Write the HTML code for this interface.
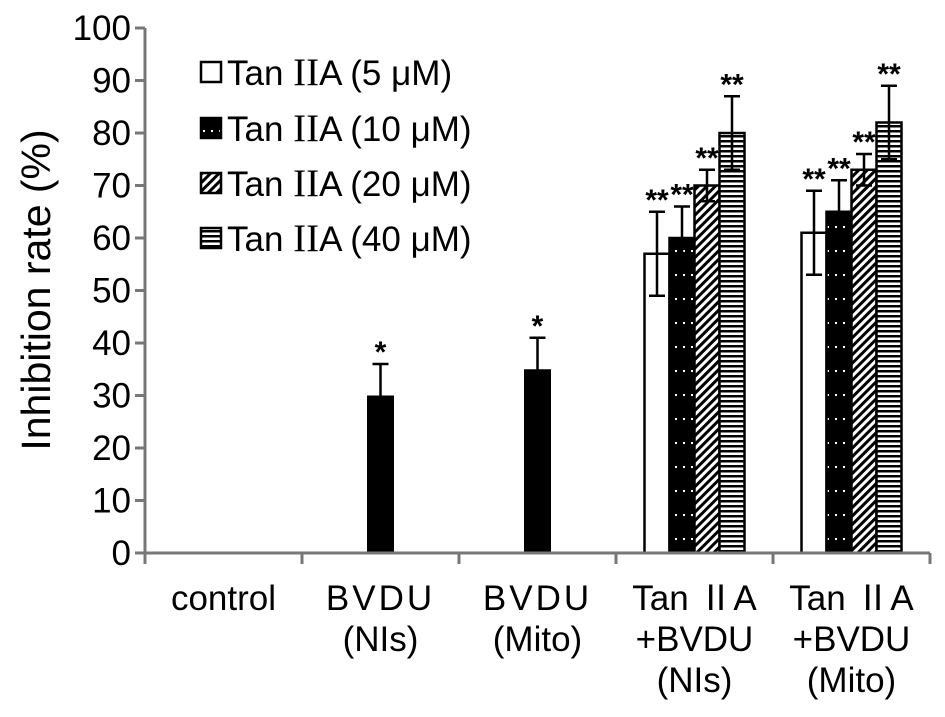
<!DOCTYPE html>
<html><head><meta charset="utf-8"><style>
body{margin:0;background:#fff;}
svg text{font-family:"Liberation Sans","Noto Sans CJK SC",sans-serif;fill:#000;}
.rn{font-family:"Liberation Serif",serif;}
</style></head><body>
<svg width="945" height="712" xmlns="http://www.w3.org/2000/svg">
<defs>
<pattern id="pDot" width="8" height="24" patternUnits="userSpaceOnUse"><rect width="8" height="24" fill="#000"/><rect x="3" y="10" width="2" height="2" fill="#fff"/></pattern>
<pattern id="pHatch" width="6" height="6" patternUnits="userSpaceOnUse" patternTransform="rotate(45)"><rect width="6" height="6" fill="#fff"/><rect width="3" height="6" fill="#000"/></pattern>
<pattern id="pStripe" width="6" height="5" patternUnits="userSpaceOnUse"><rect width="6" height="5" fill="#fff"/><rect width="6" height="2.5" fill="#000"/></pattern>
</defs>
<g id="plot"></g>
<text transform="translate(50,290) rotate(-90)" text-anchor="middle" font-size="41">Inhibition rate (%)</text>
<g font-size="35">
 <g><rect x="201" y="62" width="20" height="20" fill="#fff" stroke="#000" stroke-width="2.5"/><text x="227" y="85">Tan <tspan class="rn" font-size="39">II</tspan>A (5 μM)</text></g>
 <g><rect x="201" y="118" width="20" height="20" fill="url(#pDot)" stroke="#000" stroke-width="2.5"/><text x="227" y="141">Tan <tspan class="rn" font-size="39">II</tspan>A (10 μM)</text></g>
 <g><rect x="201" y="173" width="20" height="20" fill="url(#pHatch)" stroke="#000" stroke-width="2.5"/><text x="227" y="196">Tan <tspan class="rn" font-size="39">II</tspan>A (20 μM)</text></g>
 <g><rect x="201" y="228" width="20" height="20" fill="url(#pStripe)" stroke="#000" stroke-width="2.5"/><text x="227" y="251">Tan <tspan class="rn" font-size="39">II</tspan>A (40 μM)</text></g>
</g>
</svg>
<script>
const categories=[["control"],["BVDU","(NIs)"],["BVDU","(Mito)"],["Tan ⅡA","+BVDU","(NIs)"],["Tan ⅡA","+BVDU","(Mito)"]];
const yTicks=[0,10,20,30,40,50,60,70,80,90,100];
const seriesFills=["#fff","url(#pDot)","url(#pHatch)","url(#pStripe)"];
const singleValues=[null,30,35,null,null];
const singleErrors=[null,6,6,null,null];
const singleSig=["","*","*","",""];
const groupValues=[[null,null,null,57,61],[null,null,null,60,65],[null,null,null,70,73],[null,null,null,80,82]];
const groupErrors=[[0,0,0,8,8],[0,0,0,6,6],[0,0,0,3,3],[0,0,0,7,7]];
const groupSig="**";
const NS="http://www.w3.org/2000/svg";
const g=document.getElementById('plot');
const x0=145,x1=930,y0=553,y100=28;
const catW=(x1-x0)/categories.length;
const yS=v=>y0-(y0-y100)*v/100;
const cx=i=>x0+catW*(i+0.5);
const barW=25;
function el(t,a,p){const e=document.createElementNS(NS,t);for(const k in a)e.setAttribute(k,a[k]);(p||g).appendChild(e);return e;}
function errBar(x,v,e){
 const l=el('path',{d:`M${x},${yS(v)}V${yS(v+e)}M${x-8},${yS(v+e)}H${x+8}M${x},${yS(v)}V${yS(v-e)}M${x-8},${yS(v-e)}H${x+8}`,stroke:'#000','stroke-width':2.5,fill:'none'});
 
 
}
function star(x,v,e,s){
 const t=el('text',{x:x,y:yS(v+e)-2,'text-anchor':'middle','font-size':30,'font-weight':'bold'});t.textContent=s;
 
 
}
singleValues.forEach((v,i)=>{if(v==null)return;
 const r=el('rect',{x:cx(i)-13.5,y:yS(v),width:27,height:y0-yS(v),fill:'#000'});
 
 
 errBar(cx(i),v,singleErrors[i]);star(cx(i),v,singleErrors[i],singleSig[i]);
});
groupValues.forEach((arr,s)=>arr.forEach((v,i)=>{if(v==null)return;
 const x=cx(i)+(s-2)*barW;
 const r=el('rect',{x:x,y:yS(v),width:barW,height:y0-yS(v),fill:seriesFills[s],stroke:'#000','stroke-width':2.5});
 
 
 errBar(x+barW/2,v,groupErrors[s][i]);star(x+barW/2,v,groupErrors[s][i],groupSig);
}));
const ax=el('path',{d:`M${x0},${y100}V${y0}M${x0-10},${y0}H${x1}`,stroke:'#777','stroke-width':3,fill:'none'});


yTicks.forEach(t=>{
 el('line',{x1:x0-10,x2:x0,y1:yS(t),y2:yS(t),stroke:'#777','stroke-width':3});
 const tx=el('text',{x:x0-14,y:yS(t)+12,'text-anchor':'end','font-size':35});tx.textContent=t;
 
 
});
for(let i=0;i<=categories.length;i++)el('line',{x1:x0+catW*i,x2:x0+catW*i,y1:y0,y2:y0+11,stroke:'#777','stroke-width':3});
categories.forEach((lines,i)=>lines.forEach((s,j)=>{
 const t=el('text',{x:cx(i),y:610+j*41,'text-anchor':'middle','font-size':35,'letter-spacing':lines[0]==='BVDU'&&j===0?'3':'0'});
 t.textContent=s;
 
 
}));
</script>
</body></html>
